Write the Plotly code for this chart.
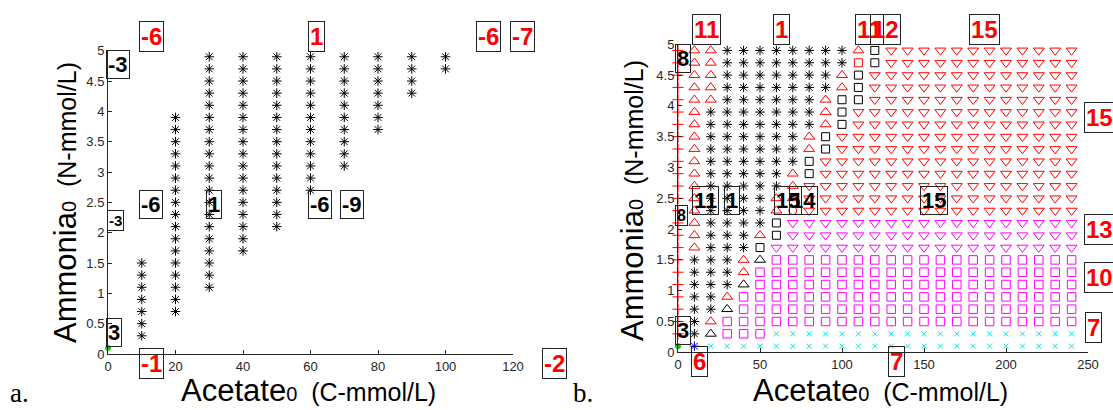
import plotly.graph_objects as go

W, H = 1113, 410

# ---------------- data ----------------
# Panel a: columns of black stars (Acetate0, lowest and highest Ammonia0)
a_star_x = [10, 20, 30, 40, 50, 60, 70, 80, 90, 100]
a_star_ymin = [0.3, 0.7, 1.1, 1.7, 2.1, 2.7, 3.1, 3.7, 4.3, 4.7]
a_star_ymax = [1.5, 3.9, 4.9, 4.9, 4.9, 4.9, 4.9, 4.9, 4.9, 4.9]
a_green_x = [0]
a_green_y = [0.1]

# Panel b: grid of outcomes, rows listed from top (4.9) to bottom (0.1)
b_rows = [4.9, 4.7, 4.5, 4.3, 4.1, 3.9, 3.7, 3.5, 3.3, 3.1, 2.9, 2.7, 2.5,
          2.3, 2.1, 1.9, 1.7, 1.5, 1.3, 1.1, 0.9, 0.7, 0.5, 0.3, 0.1]
b_cols = [0, 10, 20, 30, 40, 50, 60, 70, 80, 90, 100, 110, 120, 130, 140,
          150, 160, 170, 180, 190, 200, 210, 220, 230, 240]
b_codes = [
    "++++++++++++++++++++++++g",  # 0
    "AAAAAAAAAAAAAAAAA*******b",  # 10
    "AAAAA*****************Aax",  # 20
    "********************Aammx",  # 30
    "*****************AAammmmx",  # 40
    "***************ASammmmmmx",  # 50
    "************AASSvmmmmmmxx",  # 60
    "**********AAAovvvmmmmmmxx",  # 70
    "*******AASSVVVvvvmmmmmmxx",  # 80
    "****AAASSVVVVVvvvmmmmmmxx",  # 90
    "**AASSSVVVVVVVvvvmmmmmmxx",  # 100
    "ARSSSVVVVVVVVVvvvmmmmmmxx",  # 110
    "SSVVVVVVVVVVVVvvvmmmmmmxx",  # 120
] + ["VVVVVVVVVVVVVVvvvmmmmmmxx"] * 12  # 130 .. 240

# Boxed labels (in each panel's data units)
a_lab_text = ["-6", "1", "-6", "-7", "-3", "-6", "1", "-6", "-9", "-3", "3", "-1", "-2"]
a_lab_x = [12.8, 61.7, 112.6, 122.7, 3.05, 12.6, 31.4, 62.7, 72.3, 2.2, 1.7, 12.8, 132.4]
a_lab_y = [5.23, 5.23, 5.23, 5.23, 4.77, 2.46, 2.46, 2.46, 2.46, 2.2, 0.35, -0.15, -0.15]
a_lab_red = [1, 1, 1, 1, 0, 0, 0, 0, 0, 0, 0, 1, 1]

b_lab_text = ["11", "1", "11", "12", "15", "15", "13", "10", "7", "7", "6",
              "8", "8", "3", "11", "1", "15", "14", "15"]
b_lab_x = [17.2, 63.2, 116.9, 126.8, 186.9, 257.3, 257.3, 257.3, 253.5, 133.1, 13.4,
           3.2, 2.2, 3.3, 16.7, 32.9, 66.8, 76.4, 156.4]
b_lab_y = [5.24, 5.24, 5.24, 5.24, 5.24, 3.81, 2.0, 1.21, 0.40, -0.15, -0.15,
           4.77, 2.22, 0.36, 2.46, 2.46, 2.46, 2.46, 2.46]
b_lab_red = [1] * 11 + [0] * 8

a_xticks = [0, 20, 40, 60, 80, 100, 120]
b_xticks = [0, 50, 100, 150, 200, 250]
yticks = [0, 0.5, 1, 1.5, 2, 2.5, 3, 3.5, 4, 4.5, 5]

# ---------------- styles ----------------
STY = {
    '*': dict(symbol='asterisk-open', color='black', size=8),
    'b': dict(symbol='asterisk-open', color='blue', size=8),
    'A': dict(symbol='triangle-up-open', color='red', size=9.5),
    'a': dict(symbol='triangle-up-open', color='black', size=9.5),
    'S': dict(symbol='square-open', color='black', size=8),
    'R': dict(symbol='square-open', color='red', size=8),
    'V': dict(symbol='triangle-down-open', color='red', size=9.5),
    'v': dict(symbol='triangle-down-open', color='#ff00ff', size=9.5),
    'm': dict(symbol='square-open', color='#ff00ff', size=8.5),
    'x': dict(symbol='x-thin-open', color='#00e5e5', size=5),
    'o': dict(symbol='circle-open', color='red', size=8),
    '+': dict(symbol='cross-thin-open', color='red', size=8),
    'g': dict(symbol='circle', color='#00cc00', size=5),
}

FONT = "Liberation Sans, Arial, sans-serif"
fig = go.Figure()


def PX(p):
    return p / W


def PY(p):
    return 1 - p / H


DOM = {
    'a': dict(x=(PX(108), PX(513)), xr=(0, 120), y=(PY(354), PY(50.7)), yr=(0, 5)),
    'b': dict(x=(PX(678), PX(1088)), xr=(0, 250), y=(PY(352.3), PY(44.3)), yr=(0, 5)),
}


def to_paper(panel, x, y):
    d = DOM[panel]
    px = d['x'][0] + (x - d['xr'][0]) / (d['xr'][1] - d['xr'][0]) * (d['x'][1] - d['x'][0])
    py = d['y'][0] + (y - d['yr'][0]) / (d['yr'][1] - d['yr'][0]) * (d['y'][1] - d['y'][0])
    return px, py


def add_points(xs, ys, code, xa, ya):
    s = STY[code]
    fig.add_trace(go.Scatter(
        x=xs, y=ys, mode='markers', xaxis=xa, yaxis=ya, showlegend=False,
        cliponaxis=False, hoverinfo='skip',
        marker=dict(symbol=s['symbol'], size=s['size'], color=s['color'],
                    line=dict(color=s['color'], width=1))))


# panel a stars
ax, ay = [], []
for x, lo, hi in zip(a_star_x, a_star_ymin, a_star_ymax):
    for yv in b_rows:
        if lo - 1e-9 <= yv <= hi + 1e-9:
            ax.append(x)
            ay.append(yv)
add_points(ax, ay, '*', 'x', 'y')
add_points(a_green_x, a_green_y, 'g', 'x', 'y')

# panel b grid
groups = {}
for x, col in zip(b_cols, b_codes):
    for yv, c in zip(b_rows, col):
        groups.setdefault(c, ([], []))
        groups[c][0].append(x)
        groups[c][1].append(yv)
for c in ['+', 'A', 'a', 'S', 'R', 'V', 'v', 'm', 'x', 'o', '*', 'b', 'g']:
    if c in groups:
        add_points(groups[c][0], groups[c][1], c, 'x2', 'y2')

ann = []


def boxed(text, panel, x, y, red, size=None):
    col = 'red' if red else 'black'
    if size is None:
        size = 24 if red else 22
    px, py = to_paper(panel, x, y)
    ann.append(dict(text=text, x=px, y=py, xref='paper', yref='paper', showarrow=False,
                    font=dict(family=FONT, size=size, color=col, weight='bold'),
                    bordercolor='#222', borderwidth=1, borderpad=1,
                    xanchor='center', yanchor='middle'))


for i, (t, x, y, r) in enumerate(zip(a_lab_text, a_lab_x, a_lab_y, a_lab_red)):
    boxed(t, 'a', x, y, r, 15 if i == 9 else None)
for i, (t, x, y, r) in enumerate(zip(b_lab_text, b_lab_x, b_lab_y, b_lab_red)):
    boxed(t, 'b', x, y, r, 16 if i == 12 else None)

NB = "\u00a0"
ytitle = ("<span style='font-size:31px'>Ammonia</span><span style='font-size:20px'>0</span>"
          + NB * 2 + "<span style='font-size:25px'>(N-mmol/L)</span>")
xtitle = ("<span style='font-size:31px'>Acetate</span><span style='font-size:20px'>0</span>"
          + NB * 2 + "<span style='font-size:25px'>(C-mmol/L)</span>")
for cx, cy in [(65, 203), (632, 201)]:
    ann.append(dict(text=ytitle, x=PX(cx), y=PY(cy), xref='paper', yref='paper',
                    showarrow=False, textangle=-90, font=dict(family=FONT, color='black', size=25),
                    xanchor='center', yanchor='middle'))
for cx, cy in [(308, 390), (880, 390)]:
    ann.append(dict(text=xtitle, x=PX(cx), y=PY(cy), xref='paper', yref='paper',
                    showarrow=False, font=dict(family=FONT, color='black', size=25),
                    xanchor='center', yanchor='middle'))
for t, cx, cy in [("a.", 19, 393), ("b.", 583, 393)]:
    ann.append(dict(text=t, x=PX(cx), y=PY(cy), xref='paper', yref='paper',
                    showarrow=False, font=dict(family="Liberation Serif, Times New Roman, serif",
                                               color='black', size=27),
                    xanchor='center', yanchor='middle'))

axis_common = dict(showline=True, linecolor='#262626', linewidth=1, ticks='inside',
                   ticklen=4, tickcolor='#262626', showgrid=False, zeroline=False,
                   tickfont=dict(family=FONT, size=13, color='#262626'),
                   mirror=False, automargin=False, fixedrange=True)

fig.update_layout(
    width=W, height=H, margin=dict(l=0, r=0, t=0, b=0),
    paper_bgcolor='white', plot_bgcolor='white', showlegend=False,
    xaxis=dict(domain=list(DOM['a']['x']), range=[0, 120], tickvals=a_xticks,
               anchor='y', **axis_common),
    yaxis=dict(domain=list(DOM['a']['y']), range=[0, 5], tickvals=yticks,
               anchor='x', **axis_common),
    xaxis2=dict(domain=list(DOM['b']['x']), range=[0, 250], tickvals=b_xticks,
                anchor='y2', **axis_common),
    yaxis2=dict(domain=list(DOM['b']['y']), range=[0, 5], tickvals=yticks,
                anchor='x2', **axis_common),
    annotations=ann,
)

fig.write_html("out.html", config={'displayModeBar': False},
               post_script="document.body.style.margin='0';document.body.style.overflow='hidden';")
